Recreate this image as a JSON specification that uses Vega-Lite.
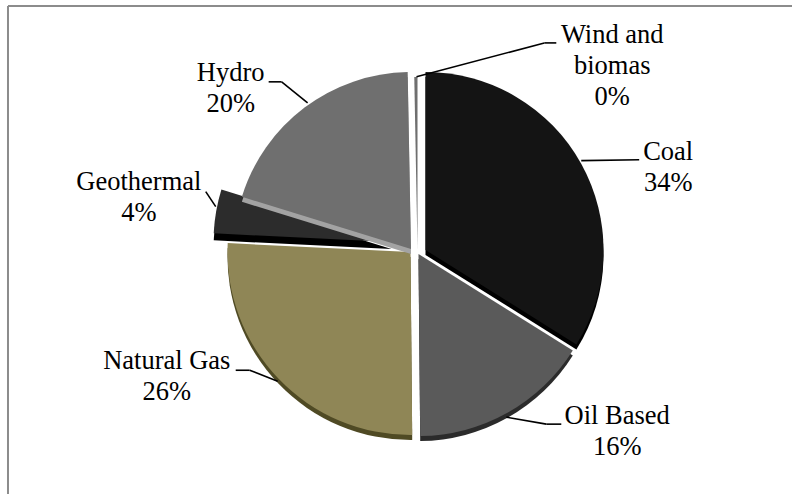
{
  "$schema": "https://vega.github.io/schema/vega-lite/v6.json",
  "width": 793,
  "height": 495,
  "padding": 0,
  "autosize": {"type": "fit", "contains": "padding"},
  "background": "white",
  "config": {"view": {"stroke": null}, "axis": {"disable": true}},
  "data": {
    "values": [
      {"name": "Coal", "caption": "Coal", "value": 34, "order": 1},
      {"name": "Oil", "caption": "Oil Based", "value": 16, "order": 2},
      {"name": "Gas", "caption": "Natural Gas", "value": 26, "order": 3},
      {"name": "Geothermal", "caption": "Geothermal", "value": 4, "order": 4},
      {"name": "Hydro", "caption": "Hydro", "value": 20, "order": 5},
      {"name": "Wind", "caption": "Wind and\nbiomas", "value": 0.3, "order": 6}
    ]
  },
  "transform": [
    {"stack": "value", "sort": [{"field": "order", "order": "ascending"}], "as": ["start", "end"]},
    {"calculate": "datum.caption + '\\n' + round(datum.value) + '%'", "as": "label"}
  ],
  "layer": [
    {
      "mark": {"type": "rule", "color": "#8c8c8c", "strokeWidth": 2},
      "transform": [{"filter": "datum.order == 1"}],
      "encoding": {
        "x": {"datum": 8, "scale": {"domain": [0, 793], "nice": false, "zero": false}},
        "y": {"datum": 6, "scale": {"domain": [495, 0], "nice": false, "zero": false}},
        "x2": {"datum": 793}
      }
    },
    {
      "mark": {"type": "rule", "color": "#8c8c8c", "strokeWidth": 2},
      "transform": [{"filter": "datum.order == 1"}],
      "encoding": {"x": {"datum": 8}, "y": {"datum": 6}, "y2": {"datum": 495}}
    },
    {
      "encoding": {
        "theta": {"field": "start", "type": "quantitative", "scale": {"domain": [0, 100.3], "range": [0, 6.2832]}},
        "theta2": {"field": "end"}
      },
      "layer": [
        {"transform": [{"filter": "datum.name == 'Coal'"}], "mark": {"type": "arc", "radius": 178, "color": "#000000", "xOffset": 29.5, "yOffset": 8}},
        {"transform": [{"filter": "datum.name == 'Coal'"}], "mark": {"type": "arc", "radius": 178, "color": "#141414", "xOffset": 29.5, "yOffset": 3}},
        {"transform": [{"filter": "datum.name == 'Oil'"}], "mark": {"type": "arc", "radius": 182, "color": "#2b2b2b", "xOffset": 22.5, "yOffset": 12}},
        {"transform": [{"filter": "datum.name == 'Oil'"}], "mark": {"type": "arc", "radius": 182, "color": "#5a5a5a", "xOffset": 22.5, "yOffset": 7}},
        {"transform": [{"filter": "datum.name == 'Gas'"}], "mark": {"type": "arc", "radius": 183, "color": "#4f4a24", "xOffset": 14.5, "yOffset": 10}},
        {"transform": [{"filter": "datum.name == 'Gas'"}], "mark": {"type": "arc", "radius": 183, "color": "#8f8656", "xOffset": 14.5, "yOffset": 5}},
        {"transform": [{"filter": "datum.name == 'Geothermal'"}], "mark": {"type": "arc", "radius": 178, "color": "#000000", "xOffset": -4.5, "yOffset": 2}},
        {"transform": [{"filter": "datum.name == 'Geothermal'"}], "mark": {"type": "arc", "radius": 178, "color": "#2c2c2c", "xOffset": -4.5, "yOffset": -5}},
        {"transform": [{"filter": "datum.name == 'Hydro'"}], "mark": {"type": "arc", "radius": 177, "color": "#a3a3a3", "xOffset": 15, "yOffset": 7}},
        {"transform": [{"filter": "datum.name == 'Hydro'"}], "mark": {"type": "arc", "radius": 177, "color": "#6f6f6f", "xOffset": 15, "yOffset": 2}},
        {"transform": [{"filter": "datum.name == 'Wind'"}], "mark": {"type": "arc", "radius": 172, "color": "#6f6f6f", "xOffset": 21.5, "yOffset": 2}}
      ]
    },
    {
      "transform": [{"filter": "datum.name == 'Coal'"}],
      "layer": [
        {"mark": {"type": "rule", "color": "#000000", "strokeWidth": 1.6}, "encoding": {"x": {"datum": 582}, "y": {"datum": 161}, "x2": {"datum": 640}, "y2": {"datum": 160}}},
        {"mark": {"type": "text", "font": "Liberation Serif", "fontSize": 26.5, "color": "#000000", "lineBreak": "\n", "lineHeight": 31, "align": "center", "baseline": "alphabetic"}, "encoding": {"x": {"datum": 669}, "y": {"datum": 160}, "text": {"field": "label"}}}
      ]
    },
    {
      "transform": [{"filter": "datum.name == 'Oil'"}],
      "layer": [
        {"mark": {"type": "rule", "color": "#000000", "strokeWidth": 1.6}, "encoding": {"x": {"datum": 507}, "y": {"datum": 418}, "x2": {"datum": 547}, "y2": {"datum": 425}}},
        {"mark": {"type": "rule", "color": "#000000", "strokeWidth": 1.6}, "encoding": {"x": {"datum": 547}, "y": {"datum": 425}, "x2": {"datum": 562}, "y2": {"datum": 425}}},
        {"mark": {"type": "text", "font": "Liberation Serif", "fontSize": 26.5, "color": "#000000", "lineBreak": "\n", "lineHeight": 31, "align": "center", "baseline": "alphabetic"}, "encoding": {"x": {"datum": 618}, "y": {"datum": 425}, "text": {"field": "label"}}}
      ]
    },
    {
      "transform": [{"filter": "datum.name == 'Gas'"}],
      "layer": [
        {"mark": {"type": "rule", "color": "#000000", "strokeWidth": 1.6}, "encoding": {"x": {"datum": 236}, "y": {"datum": 371}, "x2": {"datum": 250}, "y2": {"datum": 371}}},
        {"mark": {"type": "rule", "color": "#000000", "strokeWidth": 1.6}, "encoding": {"x": {"datum": 250}, "y": {"datum": 371}, "x2": {"datum": 278}, "y2": {"datum": 382}}},
        {"mark": {"type": "text", "font": "Liberation Serif", "fontSize": 26.5, "color": "#000000", "lineBreak": "\n", "lineHeight": 31, "align": "center", "baseline": "alphabetic"}, "encoding": {"x": {"datum": 167}, "y": {"datum": 370}, "text": {"field": "label"}}}
      ]
    },
    {
      "transform": [{"filter": "datum.name == 'Geothermal'"}],
      "layer": [
        {"mark": {"type": "rule", "color": "#000000", "strokeWidth": 1.6}, "encoding": {"x": {"datum": 206}, "y": {"datum": 192}, "x2": {"datum": 216}, "y2": {"datum": 207}}},
        {"mark": {"type": "text", "font": "Liberation Serif", "fontSize": 26.5, "color": "#000000", "lineBreak": "\n", "lineHeight": 31, "align": "center", "baseline": "alphabetic"}, "encoding": {"x": {"datum": 139}, "y": {"datum": 190}, "text": {"field": "label"}}}
      ]
    },
    {
      "transform": [{"filter": "datum.name == 'Hydro'"}],
      "layer": [
        {"mark": {"type": "rule", "color": "#000000", "strokeWidth": 1.6}, "encoding": {"x": {"datum": 269}, "y": {"datum": 82}, "x2": {"datum": 282}, "y2": {"datum": 82}}},
        {"mark": {"type": "rule", "color": "#000000", "strokeWidth": 1.6}, "encoding": {"x": {"datum": 282}, "y": {"datum": 82}, "x2": {"datum": 308}, "y2": {"datum": 103}}},
        {"mark": {"type": "text", "font": "Liberation Serif", "fontSize": 26.5, "color": "#000000", "lineBreak": "\n", "lineHeight": 31, "align": "center", "baseline": "alphabetic"}, "encoding": {"x": {"datum": 231}, "y": {"datum": 81}, "text": {"field": "label"}}}
      ]
    },
    {
      "transform": [{"filter": "datum.name == 'Wind'"}],
      "layer": [
        {"mark": {"type": "rule", "color": "#000000", "strokeWidth": 1.6}, "encoding": {"x": {"datum": 417}, "y": {"datum": 77}, "x2": {"datum": 545}, "y2": {"datum": 43}}},
        {"mark": {"type": "rule", "color": "#000000", "strokeWidth": 1.6}, "encoding": {"x": {"datum": 545}, "y": {"datum": 43}, "x2": {"datum": 557}, "y2": {"datum": 43}}},
        {"mark": {"type": "text", "font": "Liberation Serif", "fontSize": 26.5, "color": "#000000", "lineBreak": "\n", "lineHeight": 31, "align": "center", "baseline": "alphabetic"}, "encoding": {"x": {"datum": 613}, "y": {"datum": 43}, "text": {"field": "label"}}}
      ]
    }
  ]
}
